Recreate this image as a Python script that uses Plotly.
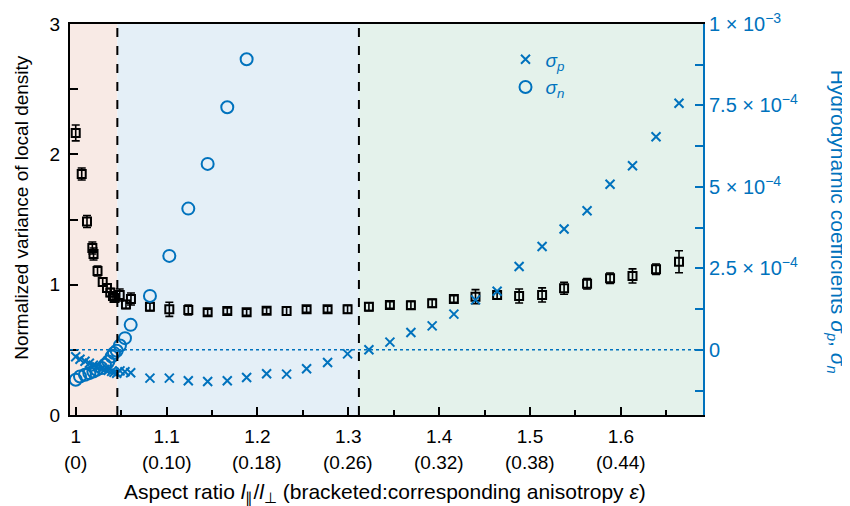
import plotly.graph_objects as go

# ---------------- data ----------------
# normalized variance of local density (left axis)
aspect_var = [1.000, 1.0066, 1.0124, 1.0183, 1.0196, 1.024, 1.0297, 1.0344, 1.038, 1.041, 1.0427,
              1.0484, 1.0553, 1.0608,
              1.0817, 1.1030, 1.1239, 1.1452, 1.1668, 1.1881, 1.2101, 1.2321, 1.2541, 1.2772, 1.2992,
              1.3227, 1.3458, 1.3689, 1.3923, 1.4162, 1.4400, 1.4638, 1.4880, 1.5133, 1.5375,
              1.5628, 1.5881, 1.6128, 1.6387, 1.6640]
variance = [2.164, 1.849, 1.485, 1.281, 1.235, 1.105, 1.020, 0.974, 0.940, 0.913, 0.898,
            0.921, 0.848, 0.890,
            0.831, 0.811, 0.806, 0.788, 0.798, 0.788, 0.800, 0.798, 0.811, 0.811, 0.811,
            0.831, 0.844, 0.842, 0.857, 0.890, 0.908, 0.921, 0.913, 0.921, 0.972,
            1.007, 1.049, 1.067, 1.118, 1.176]
variance_err = [0.061, 0.046, 0.046, 0.046, 0.046, 0.038, 0.031, 0.031, 0.031, 0.031, 0.031,
                0.046, 0.031, 0.046,
                0.030, 0.054, 0.038, 0.023, 0.023, 0.023, 0.023, 0.030, 0.023, 0.023, 0.030,
                0.030, 0.025, 0.030, 0.030, 0.025, 0.054, 0.030, 0.054, 0.054, 0.046,
                0.040, 0.040, 0.054, 0.040, 0.084]

# hydrodynamic coefficients (right axis, units of 1e-4)
aspect_sigma = [1.000, 1.0047, 1.0102, 1.015, 1.0194, 1.0231, 1.0286, 1.0322, 1.0359, 1.0396,
                1.0421, 1.0451, 1.0487, 1.0542, 1.0605,
                1.0817, 1.1030, 1.1239, 1.1452, 1.1668, 1.1881, 1.2101, 1.2321, 1.2541, 1.2772, 1.2992,
                1.3227, 1.3458, 1.3689, 1.3923, 1.4162, 1.4400, 1.4638, 1.4880, 1.5133, 1.5375,
                1.5628, 1.5881, 1.6128, 1.6387, 1.6640]
sigma_p = [-0.21, -0.29, -0.35, -0.41, -0.475, -0.52, -0.57, -0.60, -0.63, -0.66,
           -0.69, -0.72, -0.645, -0.675, -0.705,
           -0.868, -0.868, -0.951, -0.972, -0.951, -0.85, -0.736, -0.745, -0.583, -0.39, -0.123,
           0.0, 0.236, 0.53, 0.736, 1.095, 1.534, 1.80, 2.555, 3.17, 3.71,
           4.27, 5.08, 5.65, 6.54, 7.57]
sigma_n = [-0.92, -0.82, -0.767, -0.715, -0.666, -0.613, -0.561, -0.46, -0.359, -0.206,
           -0.10, -0.03, 0.132, 0.359, 0.767,
           1.656, 2.883, 4.334, 5.706, 7.445, 8.917]

# regimes (boundaries in aspect ratio) and colours
region_bounds = [0.9937, 1.0458, 1.3117, 1.6904]
region_colors = ["#F8EAE5", "#E4EFF7", "#E4F2EB"]

x_ticks = [1.0, 1.1, 1.2, 1.3, 1.4, 1.5, 1.6]
x_ticklabels = ["1", "1.1", "1.2", "1.3", "1.4", "1.5", "1.6"]
eps_labels = ["(0)", "(0.10)", "(0.18)", "(0.26)", "(0.32)", "(0.38)", "(0.44)"]
y_ticks = [0, 1, 2, 3]
y2_ticks = [0, 2.5, 5, 7.5, 10]
y2_ticklabels = ["0", "2.5 × 10<sup>−4</sup>", "5 × 10<sup>−4</sup>",
                 "7.5 × 10<sup>−4</sup>", "1 × 10<sup>−3</sup>"]

BLUE = "#0072BD"
FONT = "Liberation Sans, Arial, sans-serif"

fig = go.Figure()

# background regions
for i, c in enumerate(region_colors):
    fig.add_shape(type="rect", xref="x", yref="paper", x0=region_bounds[i], x1=region_bounds[i + 1],
                  y0=0, y1=1, fillcolor=c, line_width=0, layer="below")
# dashed separators
for b in region_bounds[1:3]:
    fig.add_shape(type="line", xref="x", yref="paper", x0=b, x1=b, y0=0, y1=1,
                  line=dict(color="black", width=2, dash="dash"), layer="above")
# dotted zero line of right axis
fig.add_shape(type="line", xref="paper", yref="y2", x0=0, x1=1, y0=0, y1=0,
              line=dict(color=BLUE, width=1.5, dash="dot"))

fig.add_trace(go.Scatter(
    x=aspect_var, y=variance, mode="markers", showlegend=False,
    marker=dict(symbol="square-open", size=8, color="black", line=dict(width=2, color="black")),
    error_y=dict(type="data", array=variance_err, color="black", thickness=1.6, width=4),
    yaxis="y"))

fig.add_trace(go.Scatter(
    x=aspect_sigma, y=sigma_p, mode="markers", name="<i>σ<sub>p</sub></i>",
    marker=dict(symbol="x-thin-open", size=9, color=BLUE, line=dict(width=2, color=BLUE)),
    yaxis="y2"))
fig.add_trace(go.Scatter(
    x=aspect_sigma[:len(sigma_n)], y=sigma_n, mode="markers", name="<i>σ<sub>n</sub></i>",
    marker=dict(symbol="circle-open", size=12, color=BLUE, line=dict(width=2, color=BLUE)),
    yaxis="y2"))

# second line of x tick labels (anisotropy)
for xv, lab in zip(x_ticks, eps_labels):
    fig.add_annotation(x=xv, xref="x", y=-0.122, yref="paper", text=lab, showarrow=False,
                       font=dict(size=19, color="black", family=FONT),
                       xanchor="center", yanchor="middle")

fig.add_annotation(x=0.497, xref="paper", y=-0.2, yref="paper", showarrow=False,
                   xanchor="center", yanchor="middle",
                   text="Aspect ratio <i>l</i><sub>∥</sub>/<i>l</i><sub>⊥</sub> (bracketed:corresponding anisotropy <i>ε</i>)",
                   font=dict(size=21, color="black", family=FONT))

fig.add_annotation(x=1.212, xref="paper", y=0.494, yref="paper", showarrow=False, textangle=90,
                   xanchor="center", yanchor="middle",
                   text="Hydrodynamic coefficients <i>σ<sub>p</sub></i>, <i>σ<sub>n</sub></i>",
                   font=dict(size=21, color=BLUE, family=FONT))

fig.add_annotation(x=-0.0758, xref="paper", y=0.53, yref="paper", showarrow=False, textangle=-90,
                   xanchor="center", yanchor="middle",
                   text="Normalized variance of local density",
                   font=dict(size=19, color="black", family=FONT))

# page body has an 8px margin: figure is shrunk and margins offset so plot sits at the reference place
fig.update_layout(
    width=842, height=498,
    margin=dict(l=62, r=147, t=16, b=91),
    paper_bgcolor="white", plot_bgcolor="white",
    font=dict(family=FONT, size=19, color="black"),
    xaxis=dict(range=[region_bounds[0], region_bounds[-1]], tickvals=x_ticks, ticktext=x_ticklabels,
               ticks="inside", ticklen=8, tickwidth=1.5, tickcolor="black", ticklabelstandoff=3,
               minor=dict(dtick=0.05, tick0=1.0, ticks="inside", ticklen=5, tickcolor="black", tickwidth=1.5),
               showline=True, linecolor="black", linewidth=2, mirror=True, automargin=False,
               showgrid=False, zeroline=False, tickfont=dict(size=19)),
    yaxis=dict(range=[0, 3], tickvals=y_ticks, ticks="inside", ticklen=8, tickwidth=1.5,
               tickcolor="black", ticklabelstandoff=4, automargin=False,
               minor=dict(dtick=0.5, tick0=0, ticks="inside", ticklen=8, tickcolor="black", tickwidth=1.5),
               showline=True, linecolor="black", linewidth=2, showgrid=False, zeroline=False,
               tickfont=dict(size=19)),
    yaxis2=dict(range=[-2, 10], overlaying="y", side="right", tickvals=y2_ticks, ticktext=y2_ticklabels,
                ticks="inside", ticklen=8, tickwidth=1.5, tickcolor=BLUE, automargin=False,
                minor=dict(dtick=1.25, tick0=0, ticks="inside", ticklen=8, tickcolor=BLUE, tickwidth=1.5),
                showline=True, linecolor=BLUE, linewidth=2, showgrid=False, zeroline=False,
                tickfont=dict(size=20, color=BLUE)),
    legend=dict(x=0.688, y=0.958, xanchor="left", yanchor="top", bgcolor="rgba(0,0,0,0)",
                font=dict(size=19, color=BLUE), itemwidth=30, tracegroupgap=0),
)

fig.write_html("out.html")
